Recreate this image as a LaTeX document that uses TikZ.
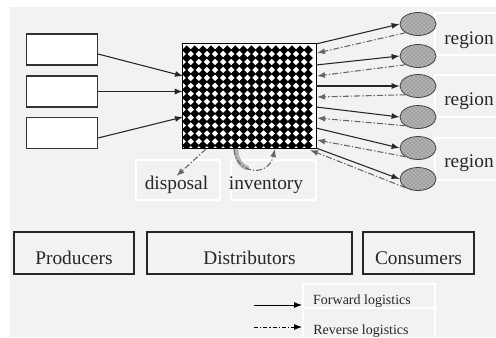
\documentclass[tikz,border=0pt]{standalone}
\usepackage{fontspec}
\setmainfont{Liberation Serif}
\usetikzlibrary{arrows.meta,patterns,shapes.geometric}
\begin{document}
\begin{tikzpicture}[x=0.75pt,y=-0.75pt,
  fwd/.style={draw=black!85, line width=0.8pt, -{Latex[length=6pt,width=4.5pt]}},
  rev/.style={draw=black!60, line width=0.8pt, dash pattern=on 4.5pt off 1.5pt on 1pt off 1.5pt, -{Latex[length=6pt,width=4.5pt]}},
  legfwd/.style={draw=black, line width=0.6pt, -{Latex[length=6pt,width=4.5pt]}},
  legrev/.style={draw=black, line width=0.6pt, dash pattern=on 3pt off 1.5pt on 1pt off 1.5pt, -{Latex[length=6pt,width=4.5pt]}},
  wbox/.style={draw=black!80, fill=white, line width=0.8pt, inner sep=0pt},
  catbox/.style={draw=black!85, line width=0.8pt, inner sep=0pt, minimum height=31.5pt},
  faint/.style={draw=white, line width=0.8pt},
  region/.style={ellipse, draw=black!75, line width=0.6pt, fill=black!30, inner sep=0pt,
    minimum width=27pt, minimum height=17.25pt,
    postaction={pattern=crosshatch dots, pattern color=black!60}},
  lbl/.style={font=\fontsize{14.5}{17}\selectfont, text=black!85, inner sep=0pt},
  leg/.style={font=\fontsize{10.5}{12}\selectfont, text=black!85, inner sep=0pt}
]
\useasboundingbox (0,0) rectangle (496,337);
\clip (0,0) rectangle (496,337);
\fill[black!5] (10,7) rectangle (496,337);

% faint label boxes
\draw[faint] (435,13) rectangle (500,55);
\draw[faint] (435,75) rectangle (500,117);
\draw[faint] (435,138) rectangle (500,180);
\draw[faint] (136,160) rectangle (220,200);
\draw[faint] (231,160) rectangle (316,200);

% producers (left boxes)
\node[wbox, minimum width=53.25pt, minimum height=23.25pt] (p1) at (62,49.5) {};
\node[wbox, minimum width=53.25pt, minimum height=23.25pt] (p2) at (62,91.5) {};
\node[wbox, minimum width=53.25pt, minimum height=23.25pt] (p3) at (62,133) {};

% hub
\node[fill=white, inner sep=0pt, minimum width=99.75pt, minimum height=78pt] (hub) at (249.5,96) {};
\begin{scope}
  \clip (hub.south west) rectangle (hub.north east);
  \foreach \i in {0,...,15}
    \foreach \j in {0,...,12}
      \fill[black] ({186.7+8.1*\i-4.6},{50+7.95*\j}) -- ++(4.6,-4.6) -- ++(4.6,4.6) -- ++(-4.6,4.6) -- cycle;
\end{scope}
\draw[black, line width=0.9pt] (hub.south west) rectangle (hub.north east);

% coordinates on edges
\coordinate (p1o) at (98,54);
\coordinate (p3o) at (98,138);
\coordinate (hi1) at (183,76);
\coordinate (hi3) at (183,117);

\draw[fwd] (p1o) -- (hi1);
\draw[fwd] (p2.east) -- (p2.east -| hub.west);
\draw[fwd] (p3o) -- (hi3);

% regions
\node[region] (e1) at (418,24) {};
\node[region] (e2) at (418,56) {};
\node[region] (e3) at (418,86) {};
\node[region] (e4) at (418,117) {};
\node[region] (e5) at (418,148) {};
\node[region] (e6) at (418,179) {};

\coordinate (f1) at (316,44);
\coordinate (f2) at (316,65);
\coordinate (f3) at (316,86);
\coordinate (f4) at (316,107);
\coordinate (f5) at (316,128);
\coordinate (f6) at (316,148);
\coordinate (r1) at (317,53);
\coordinate (r2) at (317,76);
\coordinate (r3) at (317,97);
\coordinate (r4) at (317,118);
\coordinate (r5) at (317,140);
\coordinate (r6) at (310,150);

\foreach \k in {1,...,6} {
  \draw[fwd] (f\k) -- (e\k.west);
  \draw[rev] (e\k.215) -- (r\k);
}

\node[lbl] (t1) at (469,40.5) {region};
\node[lbl] (t2) at (469,101) {region};
\node[lbl] (t3) at (469,163) {region};

% disposal and inventory
\node[lbl] (disp) at (176.5,185) {disposal};
\node[lbl] (inv) at (266,185) {inventory};
\coordinate (d0) at (206,149);
\draw[rev] (d0) -- (disp.north);

\coordinate (i0) at (234,149);
\coordinate (i1) at (275,149);
\draw[line width=3.5pt, draw=black!30, line cap=round] (236,151) .. controls (237,160) and (240,165) .. (247,168);
\draw[rev] (i0) .. controls (236,174) and (268,178) .. (i1);

% bottom categories
\node[catbox, minimum width=90pt, label={[lbl, yshift=-4pt]center:Producers}] (prod) at (74,253) {};
\node[catbox, minimum width=153.75pt, label={[lbl, yshift=-4pt]center:Distributors}] (dist) at (249.5,253) {};
\node[catbox, minimum width=83.25pt, label={[lbl, yshift=-4pt]center:Consumers}] (cons) at (418.5,253) {};

% legend
\draw[faint] (303,284) rectangle (435,308);
\draw[faint] (303,308) rectangle (435,345);
\node[leg] (lf) at (362,301) {Forward logistics};
\node[leg] (lr) at (361,331) {Reverse logistics};
\coordinate (lf0) at (254,305);
\coordinate (lr0) at (254,327);
\coordinate (lf1) at (302,305);
\coordinate (lr1) at (302,327);
\draw[legfwd] (lf0) -- (lf1);
\draw[legrev] (lr0) -- (lr1);
\end{tikzpicture}
\end{document}
